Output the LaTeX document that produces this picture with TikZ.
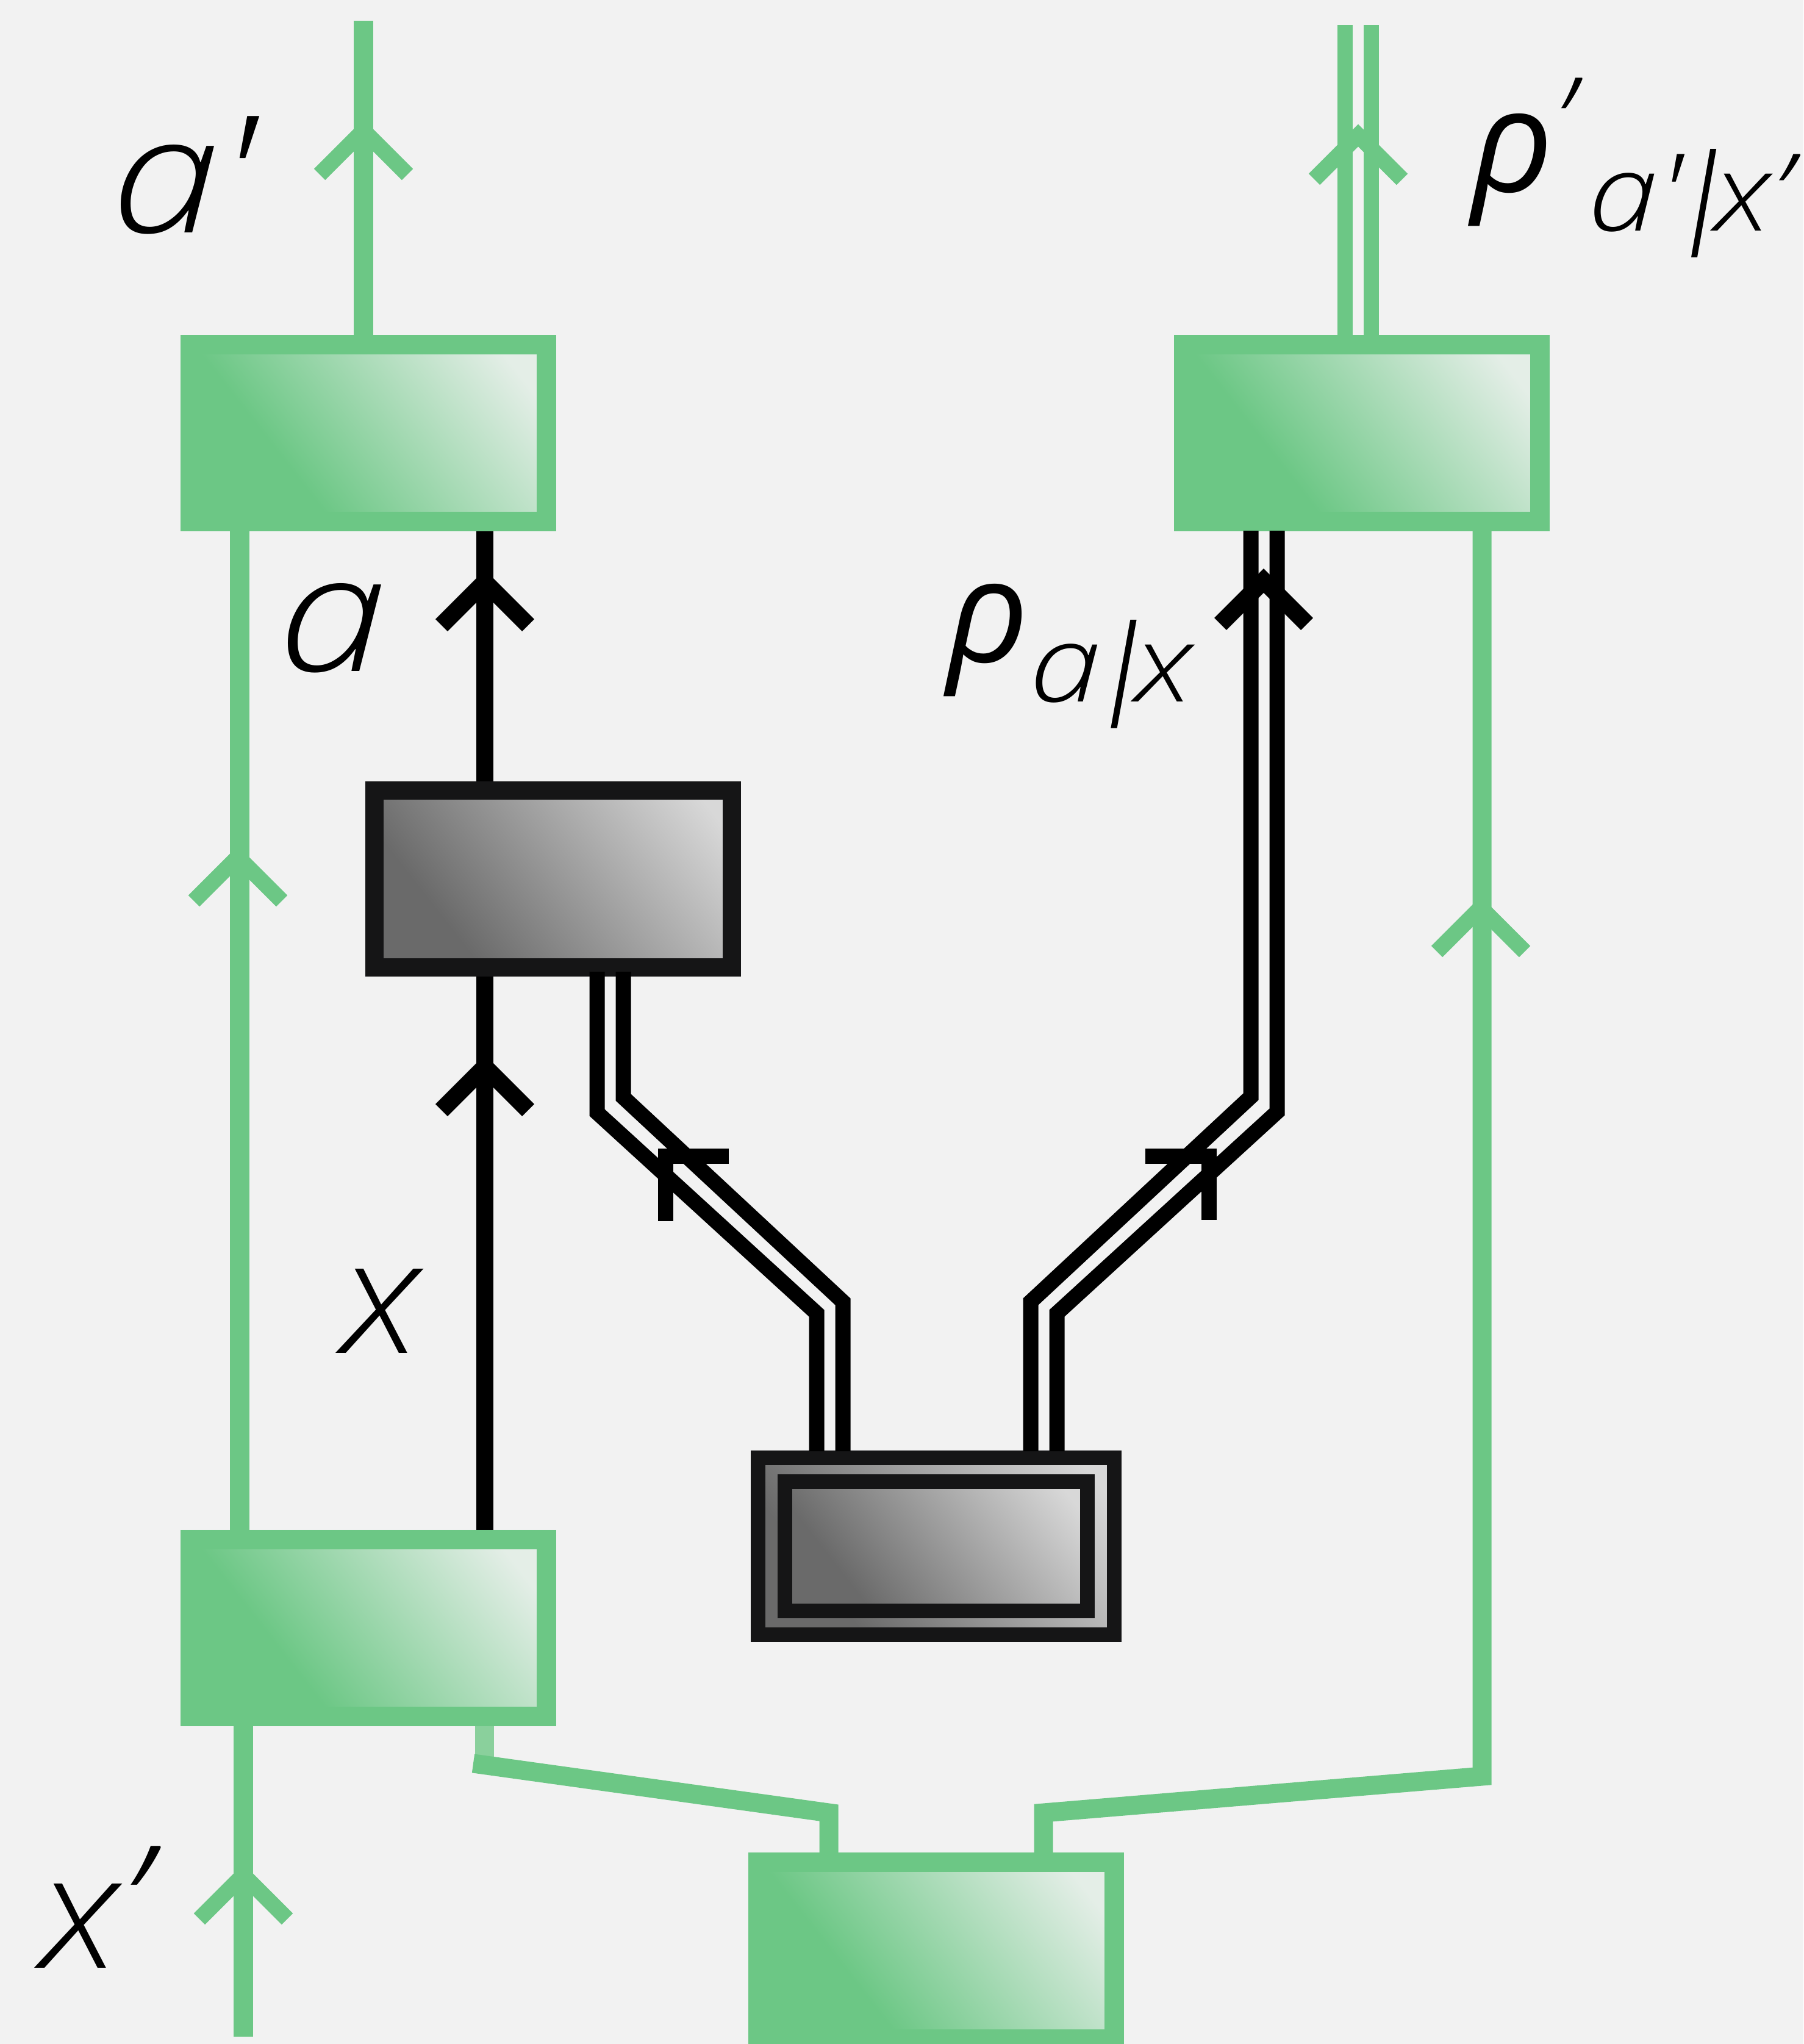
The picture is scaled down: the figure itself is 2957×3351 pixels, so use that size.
\documentclass[tikz,border=0pt]{standalone}
\usepackage{fontspec}
\usepackage{xcolor}
\setmainfont{Open Sans}
\newfontfamily\lighttext{Open Sans Light}[ItalicFont={Open Sans Light Italic}]
\newfontfamily\barfont{Open Sans Light}[FakeSlant=0.15]
\definecolor{pagegray}{HTML}{F2F2F2}
\definecolor{boxgreen}{HTML}{6CC785}
\definecolor{stubgreen}{HTML}{8AD09C}
\definecolor{palegreen}{HTML}{E4EEE7}
\definecolor{boxblack}{HTML}{151516}
\definecolor{darkfill}{HTML}{6A6A6A}
\definecolor{palefill}{HTML}{D8D8D8}
\pgfdeclarehorizontalshading{greenfade}{100bp}{color(0bp)=(boxgreen); color(35bp)=(boxgreen); color(78bp)=(palegreen); color(100bp)=(palegreen)}
\pgfdeclarehorizontalshading{grayfade}{100bp}{color(0bp)=(darkfill); color(30bp)=(darkfill); color(80bp)=(palefill); color(100bp)=(palefill)}
\tikzset{
  greenbox/.style={rectangle, draw=boxgreen, line width=0.32cm, shading=greenfade, shading angle=38, inner sep=0pt, minimum width=5.84cm, minimum height=2.9cm},
  graybox/.style={rectangle, draw=boxblack, line width=0.3cm, shading=grayfade, shading angle=38, inner sep=0pt, minimum width=5.85cm, minimum height=2.9cm},
  greenline/.style={draw=boxgreen, line width=0.31cm},
  blackline/.style={draw=black, line width=0.28cm},
  twinline/.style={draw=black, line width=0.25cm},
  label/.style={inner sep=0pt, anchor=base west, text=black}
}
\newcommand{\biglight}{\lighttext\itshape\fontsize{76}{90}\selectfont}
\newcommand{\midlight}{\lighttext\itshape\fontsize{74}{88}\selectfont}
\newcommand{\sublight}{\lighttext\itshape\fontsize{50}{60}\selectfont}
\newcommand{\bigrho}{\itshape\fontsize{67}{80}\selectfont}
\newcommand{\subbar}{\kern-0.3cm{\barfont|}\kern-0.2cm}
\begin{document}
\begin{tikzpicture}[x=0.01cm,y=-0.01cm]
  \fill[pagegray] (0,0) rectangle (2957,3351);
  \useasboundingbox (0,0) rectangle (2957,3351);
  \node[greenbox] (topleft) at (604,710) {};
  \node[greenbox] (topright) at (2233,710) {};
  \node[greenbox] (lowleft) at (604,2669) {};
  \node[greenbox] (lowmid) at (1535,3198) {};
  \node[graybox] (midbox) at (907,1441) {};
  \node[graybox, line width=0.24cm, minimum width=5.84cm, minimum height=2.89cm] (pairouter) at (1535,2535) {};
  \node[graybox, line width=0.24cm, minimum width=4.96cm, minimum height=2.12cm] (pairinner) at (1535,2535) {};
  \coordinate (outtop) at (596,34);
  \coordinate (twinatop) at (2205,41);
  \coordinate (twinbtop) at (2248,41);
  \coordinate (inlow) at (399,3339);
  \coordinate (greenl) at (393,0);
  \coordinate (greenr) at (2430,0);
  \coordinate (blackx) at (795,0);
  \coordinate (leftkink) at (794,2891);
  \coordinate (leftcut) at (776,2891);
  \coordinate (leftdrop) at (1359,2972);
  \coordinate (rightkink) at (2430,2912);
  \coordinate (rightdrop) at (1711,2972);
  \draw[greenline] (outtop) -- (outtop |- topleft.north);
  \draw[greenline, line width=0.25cm] (twinatop) -- (twinatop |- topright.north);
  \draw[greenline, line width=0.25cm] (twinbtop) -- (twinbtop |- topright.north);
  \draw[greenline] (greenl |- topleft.south) -- (greenl |- lowleft.north);
  \draw[greenline] (inlow |- lowleft.south) -- (inlow);
  \draw[greenline] (greenr |- topright.south) -- (rightkink) -- (rightdrop) -- (rightdrop |- lowmid.north);
  \draw[greenline, draw=stubgreen] (leftkink |- lowleft.south) -- (leftkink);
  \draw[greenline] (leftcut) -- (leftdrop) -- (leftdrop |- lowmid.north);
  \draw[blackline] (blackx |- midbox.north) -- (blackx |- topleft.south);
  \draw[blackline] (blackx |- lowleft.north) -- (blackx |- midbox.south);
  \draw[twinline] (979,1593) -- (979,1824) -- (1339,2153) -- (1339,2379);
  \draw[twinline] (1022,1593) -- (1022,1799) -- (1382,2134) -- (1382,2379);
  \draw[twinline] (2051,870) -- (2051,1798) -- (1690,2134) -- (1690,2379);
  \draw[twinline] (2094,870) -- (2094,1823) -- (1733,2153) -- (1733,2379);
  \foreach \tipx/\tipy in {596/214, 2227/222, 390/1405, 2428/1488, 399/3074}
    \draw[greenline, line width=0.26cm] (\tipx-72,\tipy+72) -- (\tipx,\tipy) -- (\tipx+72,\tipy+72);
  \foreach \tipx/\tipy in {795/954, 795/1749, 2072/952}
    \draw[blackline] (\tipx-71,\tipy+71) -- (\tipx,\tipy) -- (\tipx+71,\tipy+71);
  \draw[twinline] (1195,1895) -- (1091,1895) -- (1091,2002);
  \draw[twinline] (1878,1895) -- (1982,1895) -- (1982,2000);
  \node[label, xscale=1.2] (aprime) at (182,381) {\biglight a\kern-0.06cm\char39};
  \node[label, xscale=1.2] (aout) at (456,1100) {\biglight a};
  \node[label, xscale=1.11] (xin) at (560,2218) {\midlight x};
  \node[label, xscale=1.11] (xprime) at (66,3226) {\midlight x\raisebox{0.14cm}{’}};
  \node[label] (rholow) at (1552,1085) {\bigrho ρ};
  \node[label, xscale=1.2] (sublow) at (1688,1150) {\sublight a\subbar x};
  \node[label] (rhotop) at (2412,314) {\bigrho ρ\raisebox{0.4cm}{\lighttext\fontsize{58}{70}\selectfont ’}};
  \node[label, xscale=1.17] (subtop) at (2604,378) {\sublight a\char39\subbar x’};
\end{tikzpicture}
\end{document}
